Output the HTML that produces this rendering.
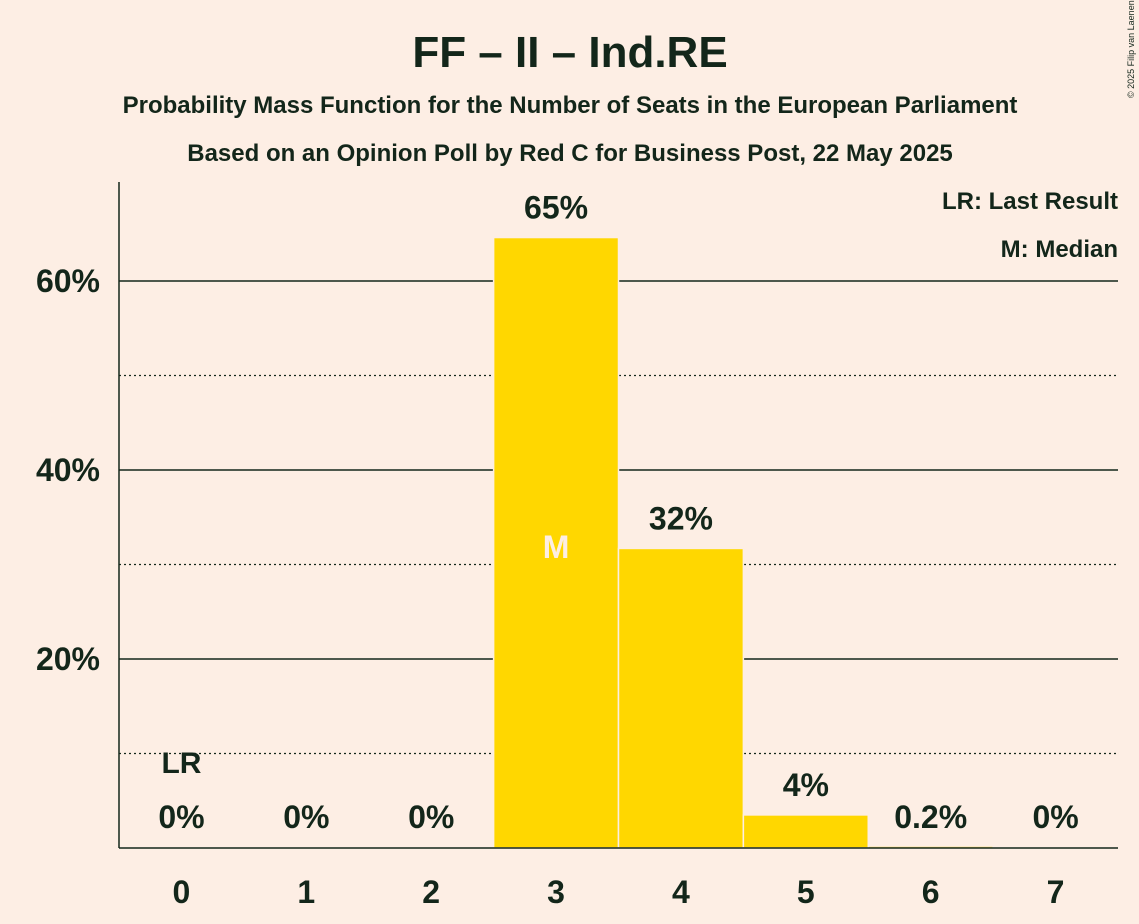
<!DOCTYPE html>
<html><head><meta charset="utf-8"><style>
body{margin:0;background:#fdeee4;}
svg{display:block;font-family:"Liberation Sans",sans-serif;}
</style></head><body>
<svg id="chart" width="1139" height="924" viewBox="0 0 1139 924">
<rect width="1139" height="924" fill="#fdeee4"/>
<text x="570" y="67" text-anchor="middle" font-size="44" font-weight="bold" fill="#13261a">FF – II – Ind.RE</text>
<text x="570" y="113" text-anchor="middle" font-size="24" font-weight="bold" fill="#13261a">Probability Mass Function for the Number of Seats in the European Parliament</text>
<text x="570" y="161" text-anchor="middle" font-size="24" font-weight="bold" fill="#13261a">Based on an Opinion Poll by Red C for Business Post, 22 May 2025</text>
<text transform="translate(1134,98) rotate(-90)" font-size="9" fill="#13261a">© 2025 Filip van Laenen</text>
<text x="1118" y="209" text-anchor="end" font-size="24" font-weight="bold" fill="#13261a">LR: Last Result</text>
<text x="1118" y="257" text-anchor="end" font-size="24" font-weight="bold" fill="#13261a">M: Median</text>
<g id="grid"></g><g id="bars"></g><g id="labels"></g>
<line x1="119" y1="182" x2="119" y2="848" stroke="#13261a" stroke-width="1.5"/>
<line x1="119" y1="848" x2="1118" y2="848" stroke="#13261a" stroke-width="1.5"/>
</svg>
<script>
const categories=[0,1,2,3,4,5,6,7];
const values=[0,0,0,64.6,31.7,3.5,0.2,0];
const valueLabels=["0%","0%","0%","65%","32%","4%","0.2%","0%"];
const yTicks=[10,20,30,40,50,60];
const yTickLabels=["","20%","","40%","","60%"];
const lastResult=0, median=3;
const NS="http://www.w3.org/2000/svg";
const x0=119,x1=1118,yBase=848,pxPer=9.45;
const bw=(x1-x0)/categories.length;
const X=i=>x0+bw*i;
const Y=v=>yBase-v*pxPer;
function mk(tag,attrs,parent,text){const e=document.createElementNS(NS,tag);for(const k in attrs)e.setAttribute(k,attrs[k]);if(text!==undefined)e.textContent=text;parent.appendChild(e);return e;}
const grid=document.getElementById('grid'),bars=document.getElementById('bars'),labels=document.getElementById('labels');
yTicks.forEach((t,i)=>{
  const major=t%20===0;
  const l=mk('line',{x1:x0,x2:x1,y1:Y(t),y2:Y(t),stroke:'#13261a','stroke-width':major?1.5:1.2,'stroke-dasharray':major?'':'2,3'},grid);
  
  
  if(yTickLabels[i]){
    const tx=mk('text',{x:100,y:Y(t)+11,'text-anchor':'end','font-size':32,'font-weight':'bold',fill:'#13261a'},labels,yTickLabels[i]);
    
    
  }
});
categories.forEach((c,i)=>{
  const v=values[i];
  if(v>0){
    const r=mk('rect',{x:X(i),y:Y(v),width:bw,height:yBase-Y(v),fill:'#ffd700',stroke:'#fdeee4','stroke-width':1.5},bars);
    
    
  }
  const cx=X(i)+bw/2;
  const lab=mk('text',{x:cx,y:Math.min(Y(v),yBase)-19,'text-anchor':'middle','font-size':32,'font-weight':'bold',fill:'#13261a'},labels,valueLabels[i]);
  if(v<2) lab.setAttribute('y',828);
  
  
  const xt=mk('text',{x:cx,y:903,'text-anchor':'middle','font-size':32,'font-weight':'bold',fill:'#13261a'},labels,String(c));
  
  
  if(i===lastResult){
    const lr=mk('text',{x:cx,y:773,'text-anchor':'middle','font-size':30,'font-weight':'bold',fill:'#13261a'},labels,'LR');
    
    
  }
  if(i===median){
    const m=mk('text',{x:cx,y:558,'text-anchor':'middle','font-size':32,'font-weight':'bold',fill:'#fdeee4'},labels,'M');
    
    
  }
});
</script>
</body></html>
